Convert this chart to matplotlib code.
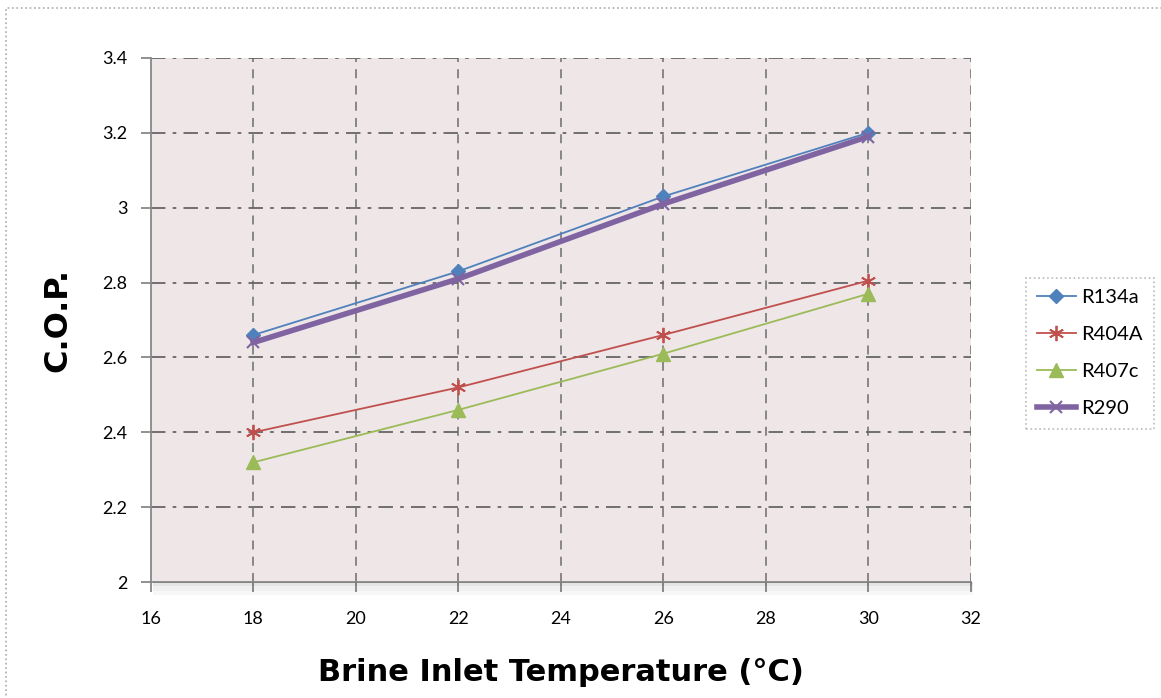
import matplotlib.pyplot as plt
from matplotlib.patches import Rectangle

# brine inlet temperature (deg C) and COP per refrigerant
temps = [18, 22, 26, 30]
r134a = [2.66, 2.83, 3.03, 3.20]
r404a = [2.40, 2.52, 2.66, 2.805]
r407c = [2.32, 2.46, 2.61, 2.77]
r290 = [2.64, 2.81, 3.01, 3.19]

x_ticks = [16, 18, 20, 22, 24, 26, 28, 30, 32]
y_ticks = [2, 2.2, 2.4, 2.6, 2.8, 3, 3.2, 3.4]
y_labels = ["2", "2.2", "2.4", "2.6", "2.8", "3", "3.2", "3.4"]

plt.rcParams["font.family"] = ["Lato", "DejaVu Sans"]

fig = plt.figure(figsize=(11.61, 6.98), dpi=100)
ax = fig.add_axes([0.130, 0.166, 0.706, 0.751])
ax.set_facecolor("#efe6e7")

# soft shadow under the plot area
for i, a in enumerate([0.10, 0.06, 0.03]):
    fig.patches.append(Rectangle((0.132, 0.166 - 0.006 * (i + 1)), 0.706, 0.006,
                                 transform=fig.transFigure, color="#000000",
                                 alpha=a, lw=0, zorder=0))

ax.plot(temps, r134a, color="#4f81bd", lw=1.3, marker="D", ms=7, label="R134a", zorder=4)
ax.plot(temps, r404a, color="#c0504d", lw=1.3, marker=(6, 2, 0), ms=11, mew=1.3, label="R404A", zorder=4)
ax.plot(temps, r407c, color="#9bbb59", lw=1.3, marker="^", ms=10, label="R407c", zorder=4)
ax.plot(temps, r290, color="#8064a2", lw=4, marker="x", ms=9, mew=1.5, label="R290", zorder=5)

ax.set_xlim(16, 32)
ax.set_ylim(2, 3.4)
ax.set_xticks(x_ticks)
ax.set_yticks(y_ticks)
ax.set_yticklabels(y_labels)

for v in x_ticks[1:]:
    ax.axvline(v, color="#808080", lw=1.3, ls=(0, (5, 4)), zorder=1)
for v in y_ticks[1:]:
    ax.axhline(v, color="#666666", lw=1.3, ls=(0, (8, 4, 2, 4)), zorder=1)

for s in ["top", "right"]:
    ax.spines[s].set_visible(False)
for s in ["left", "bottom"]:
    ax.spines[s].set_color("#888888")
    ax.spines[s].set_linewidth(1.3)
ax.tick_params(axis="both", colors="#888888", labelcolor="black", labelsize=13,
               length=7, width=1.3)
ax.tick_params(axis="x", pad=14)
ax.tick_params(axis="y", pad=10)

ax.set_xlabel("Brine Inlet Temperature (°C)", fontsize=22, fontweight="heavy",
              family="DejaVu Sans", labelpad=22)
ax.set_ylabel("C.O.P.", fontsize=23, fontweight="heavy", family="DejaVu Sans", labelpad=21)

leg = ax.legend(loc="center right", bbox_to_anchor=(1.224, 0.437), fontsize=14.5,
                frameon=True, fancybox=False, labelspacing=1.0, handlelength=1.9,
                borderpad=0.55, handletextpad=0.3, borderaxespad=0)
leg.get_frame().set_edgecolor("#aaaaaa")
leg.get_frame().set_linestyle(":")
leg.get_frame().set_linewidth(1.2)

# dotted outer border
fig.patches.append(Rectangle((0.005, -0.02), 1.0, 1.0085, transform=fig.transFigure,
                             fill=False, ec="#aaaaaa", ls=":", lw=1.2))

fig.savefig("out.png", dpi=100)
